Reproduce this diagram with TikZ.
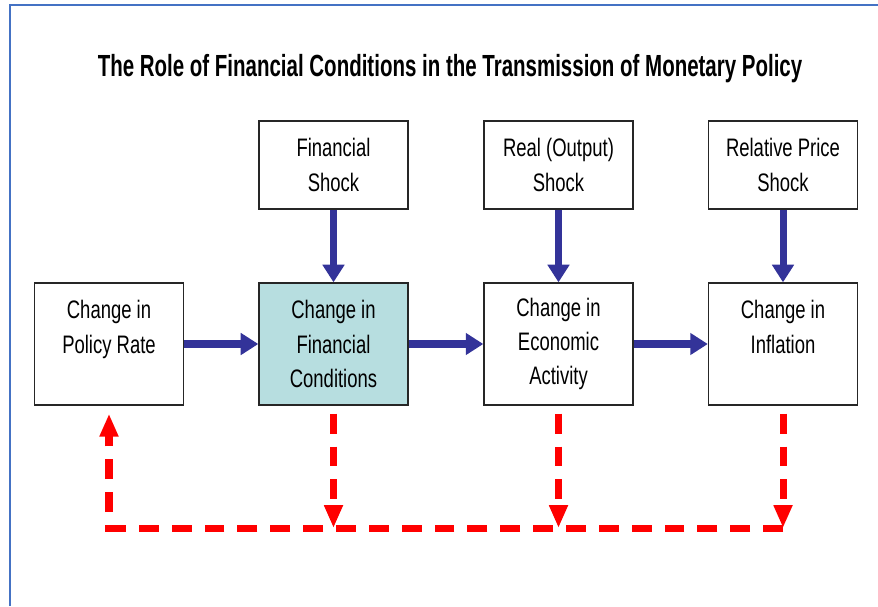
\documentclass[tikz,border=0pt]{standalone}
\usepackage{fontspec}
\setmainfont[FakeStretch=0.73]{Liberation Sans}
\newfontfamily\titlefont[FakeStretch=0.67]{Liberation Sans}
\usetikzlibrary{arrows.meta,positioning}

\definecolor{navyarr}{RGB}{51,51,153}
\definecolor{tealfill}{RGB}{183,222,224}
\definecolor{frameblue}{RGB}{68,114,196}

\tikzset{
  box/.style={draw=black!85, line width=0.8pt, fill=white, minimum width=2.98cm,
    inner sep=0pt, align=center, font=\fontsize{14.4}{19.6}\selectfont},
  shockbox/.style={box, minimum height=1.76cm},
  chgbox/.style={box, minimum height=2.44cm},
  flow/.style={navyarr, line width=4pt, -{Triangle[length=10pt,width=12pt]}},
  feedback/.style={red, line width=4pt, dash pattern=on 11.3pt off 7.4pt,
    -{Triangle[length=13pt,width=10pt]}},
}

\begin{document}
\begin{tikzpicture}[x=0.02cm, y=-0.02cm]
	\useasboundingbox (0,0) rectangle (878,606);
	% frame
	\draw[frameblue, line width=0.9pt] (10,606) -- (10,5) -- (878,5);
	% title
	\node (title) at (450,69) {\titlefont\fontsize{17.4}{20}\selectfont\bfseries The Role of Financial Conditions in the Transmission of Monetary Policy};
	% shocks
	\node[shockbox] (fs) at (333.5,165) {Financial\\Shock};
	\node[shockbox] (rs) at (558.5,165) {Real (Output)\\Shock};
	\node[shockbox] (ps) at (783,165) {Relative Price\\Shock};
	% changes
	\node[chgbox] (pol) at (109,344) {Change in\\Policy Rate\\~};
	\node[chgbox, fill=tealfill] (fc) at (333.5,344) {Change in\\Financial\\Conditions};
	\node[chgbox] (ea) at (558.5,344) {Change in\\Economic\\Activity};
	\node[chgbox] (inf) at (783,344) {Change in\\Inflation\\~};
	% transmission
	\draw[flow] (pol) -- (fc);
	\draw[flow] (fc) -- (ea);
	\draw[flow] (ea) -- (inf);
	\draw[flow] (fs) -- (fc);
	\draw[flow] (rs) -- (ea);
	\draw[flow] (ps) -- (inf);
	% feedback
	\coordinate (bus) at (109,528);
	\draw[feedback] ([yshift=-0.16cm]fc.south) -- (fc.south |- bus);
	\draw[feedback] ([yshift=-0.16cm]ea.south) -- (ea.south |- bus);
	\draw[feedback] ([yshift=-0.16cm]inf.south) -- (inf.south |- bus);
	\draw[feedback] (inf.south |- bus) -- (bus) -- ([yshift=-0.16cm]pol.south);
\end{tikzpicture}
\end{document}
